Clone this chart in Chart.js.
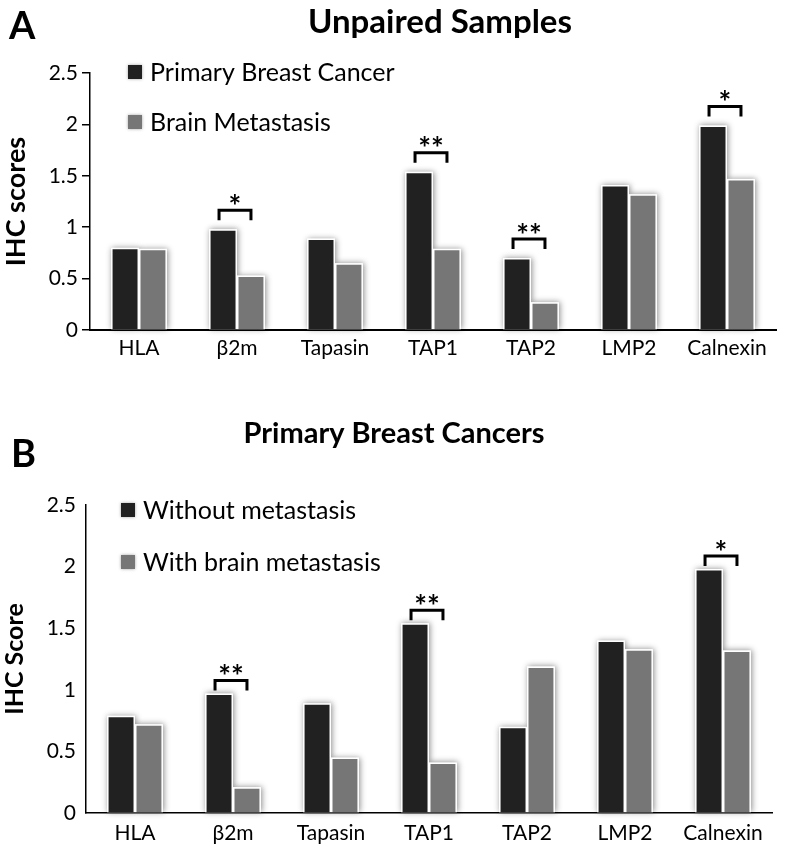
<!DOCTYPE html>
<html>
<head>
<meta charset="utf-8">
<script src="https://cdn.jsdelivr.net/npm/chart.js@4.4.1/dist/chart.umd.min.js"></script>
<style>
  html, body { margin: 0; padding: 0; background: #fff; }
  #panelA { position: absolute; left: 0; top: 0; width: 786px; height: 372px; }
  #panelB { position: absolute; left: 0; top: 372px; width: 786px; height: 476px; }
</style>
</head>
<body>
<div id="panelA"><canvas id="chartA"></canvas></div>
<div id="panelB"><canvas id="chartB"></canvas></div>
<script>
const categories = ["HLA", "β2m", "Tapasin", "TAP1", "TAP2", "LMP2", "Calnexin"];

// panel A - unpaired samples
const unpairedPrimary = [0.80, 0.98, 0.89, 1.54, 0.70, 1.41, 1.99];
const unpairedBrain = [0.79, 0.53, 0.65, 0.79, 0.27, 1.32, 1.47];
const unpairedStars = ["", "*", "", "**", "**", "", "*"];

// panel B - primary breast cancers
const withoutMet = [0.79, 0.97, 0.89, 1.54, 0.70, 1.40, 1.98];
const withBrainMet = [0.72, 0.21, 0.45, 0.41, 1.19, 1.33, 1.32];
const primaryStars = ["", "**", "", "**", "", "", "*"];

const yMax = 2.5;
const yStep = 0.5;

const DARK = "#212121";
const GREY = "#767676";
const FONT = "Lato, 'Open Sans', sans-serif";

// soft glow behind each bar, drawn before the bars themselves
const barGlow = {
  id: "barGlow",
  beforeDatasetsDraw(chart) {
    const ctx = chart.ctx;
    ctx.save();
    ctx.shadowColor = "rgba(0,0,0,0.45)";
    ctx.shadowBlur = 6;
    ctx.shadowOffsetX = 1;
    ctx.shadowOffsetY = 0;
    ctx.fillStyle = "#fff";
    chart.data.datasets.forEach((ds, i) => {
      chart.getDatasetMeta(i).data.forEach((bar) => {
        ctx.fillRect(bar.x - bar.width / 2, bar.y, bar.width, bar.base - bar.y);
      });
    });
    ctx.restore();
  },
};

// letter, title, legend and significance brackets
const decorations = {
  id: "decorations",
  afterDraw(chart, args, opts) {
    const ctx = chart.ctx;
    ctx.save();
    ctx.fillStyle = "#000";
    ctx.textBaseline = "middle";

    ctx.font = "bold 38px " + FONT;
    ctx.textAlign = "left";
    ctx.fillText(opts.letter, opts.letterX, opts.letterY);

    ctx.font = "bold " + opts.titleSize + "px " + FONT;
    ctx.textAlign = "center";
    ctx.fillText(opts.title, opts.titleX, opts.titleY);

    // legend
    ctx.font = "25px " + FONT;
    ctx.textAlign = "left";
    chart.data.datasets.forEach((ds, i) => {
      const y = opts.legendY + i * opts.legendGap;
      ctx.save();
      ctx.shadowColor = "rgba(0,0,0,0.35)";
      ctx.shadowBlur = 3;
      ctx.fillStyle = ds.backgroundColor;
      ctx.fillRect(opts.legendX, y - 7, 14, 14);
      ctx.restore();
      ctx.fillText(ds.label, opts.legendX + 22, y + 1);
    });

    // brackets
    const m0 = chart.getDatasetMeta(0).data;
    const m1 = chart.getDatasetMeta(1).data;
    ctx.strokeStyle = "#000";
    ctx.lineWidth = 3;
    ctx.font = "bold 30px " + FONT;
    ctx.textAlign = "center";
    opts.stars.forEach((s, i) => {
      if (!s) return;
      const top = Math.min(m0[i].y, m1[i].y) - opts.bracketGap;
      const left = m0[i].x - 4;
      const right = m1[i].x;
      ctx.beginPath();
      ctx.moveTo(left, top + opts.leg);
      ctx.lineTo(left, top);
      ctx.lineTo(right, top);
      ctx.lineTo(right, top + opts.leg);
      ctx.stroke();
      ctx.fillText(s, (left + right) / 2, top - 3);
    });
    ctx.restore();
  },
};

function makePanel(canvasId, cfg) {
  return new Chart(document.getElementById(canvasId), {
    type: "bar",
    data: {
      labels: categories,
      datasets: [
        { label: cfg.names[0], data: cfg.first, backgroundColor: DARK },
        { label: cfg.names[1], data: cfg.second, backgroundColor: GREY },
      ],
    },
    plugins: [barGlow, decorations],
    options: {
      responsive: true,
      maintainAspectRatio: false,
      animation: false,
      datasets: {
        bar: {
          categoryPercentage: 0.57,
          barPercentage: 1.0,
          borderColor: "#fff",
          borderWidth: 1.5,
        },
      },
      layout: { padding: { top: cfg.top, right: cfg.right, left: 0, bottom: 0 } },
      plugins: {
        legend: { display: false },
        tooltip: { enabled: false },
        decorations: cfg.deco,
      },
      scales: {
        x: {
          z: 1,
          grid: { drawOnChartArea: false, drawTicks: false },
          border: { color: "#000", width: cfg.xBorder },
          ticks: { color: "#000", font: { family: FONT, size: 21 }, padding: cfg.xPad, maxRotation: 0 },
          afterFit: (s) => { s.height = cfg.xHeight; },
        },
        y: {
          min: 0,
          max: yMax,
          grid: {
            drawOnChartArea: false,
            drawTicks: cfg.yTicks,
            tickLength: 8,
            tickColor: "#000",
            lineWidth: 1.5,
          },
          border: { color: "#000", width: 1.5 },
          ticks: {
            stepSize: yStep,
            color: "#000",
            font: { family: FONT, size: 21 },
            padding: cfg.yPad,
            callback: (v) => String(v),
          },
          title: {
            display: true,
            text: cfg.yTitle,
            color: "#000",
            font: { family: FONT, size: cfg.yTitleSize, weight: "bold" },
            padding: { top: 0, bottom: 0 },
          },
          afterFit: (s) => { s.width = cfg.yWidth; },
        },
      },
    },
  });
}

makePanel("chartA", {
  names: ["Primary Breast Cancer", "Brain Metastasis"],
  first: unpairedPrimary,
  second: unpairedBrain,
  top: 73,
  right: 10,
  xBorder: 2,
  xHeight: 42,
  xPad: 6,
  yTicks: true,
  yPad: 4,
  yWidth: 90,
  yTitle: "IHC scores",
  yTitleSize: 27,
  deco: {
    letter: "A", letterX: 9, letterY: 27,
    title: "Unpaired Samples", titleSize: 33, titleX: 440, titleY: 22,
    legendX: 128, legendY: 72, legendGap: 50,
    stars: unpairedStars, bracketGap: 19, leg: 10,
  },
});

makePanel("chartB", {
  names: ["Without metastasis", "With brain metastasis"],
  first: withoutMet,
  second: withBrainMet,
  top: 133,
  right: 14,
  xBorder: 1.5,
  xHeight: 35,
  xPad: 8,
  yTicks: false,
  yPad: 10,
  yWidth: 86,
  yTitle: "IHC Score",
  yTitleSize: 25,
  deco: {
    letter: "B", letterX: 11, letterY: 83,
    title: "Primary Breast Cancers", titleSize: 29, titleX: 394, titleY: 62,
    legendX: 121, legendY: 138, legendGap: 52,
    stars: primaryStars, bracketGap: 13, leg: 10,
  },
});
</script>
</body>
</html>
